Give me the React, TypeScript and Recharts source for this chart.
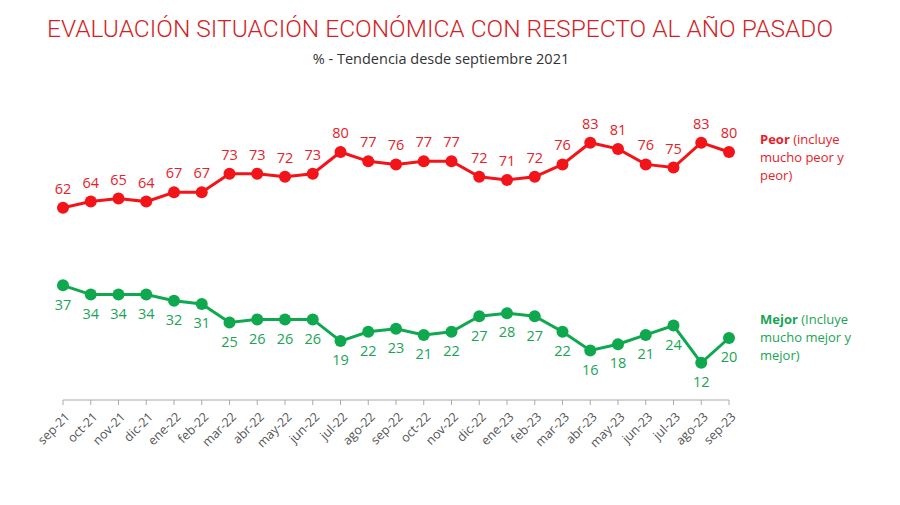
import { LineChart, Line, XAxis, YAxis, LabelList } from "recharts";

const months = [
  "sep-21", "oct-21", "nov-21", "dic-21", "ene-22", "feb-22", "mar-22", "abr-22",
  "may-22", "jun-22", "jul-22", "ago-22", "sep-22", "oct-22", "nov-22", "dic-22",
  "ene-23", "feb-23", "mar-23", "abr-23", "may-23", "jun-23", "jul-23", "ago-23", "sep-23",
];
const peor = [62, 64, 65, 64, 67, 67, 73, 73, 72, 73, 80, 77, 76, 77, 77, 72, 71, 72, 76, 83, 81, 76, 75, 83, 80];
const mejor = [37, 34, 34, 34, 32, 31, 25, 26, 26, 26, 19, 22, 23, 21, 22, 27, 28, 27, 22, 16, 18, 21, 24, 12, 20];

const data = months.map((m, i) => ({ month: m, peor: peor[i], mejor: mejor[i] }));

const RED = "#f21418";
const RED_TEXT = "#e5222a";
const GREEN = "#0fa84e";
const GREEN_TEXT = "#1aa456";
const FONT = "'Open Sans', 'Noto Sans', sans-serif";

function AngleTick({ x, y, payload }: any) {
  return (
    <g transform={`translate(${x + 2},${y + 5})`}>
      <text
        x={0}
        y={0}
        dy={8}
        textAnchor="end"
        transform="rotate(-45)"
        fontSize={12.5}
        fill="#555"
        fontFamily={FONT}
      >
        {payload.value}
      </text>
    </g>
  );
}

export default function App() {
  return (
    <div style={{ position: "absolute", left: 0, top: 0, width: 900, height: 505, background: "#fff" }}>
      <svg width={900} height={70} style={{ position: "absolute", left: 0, top: 0 }}>
        <text
          x={47}
          y={37}
          textLength={786}
          lengthAdjust="spacingAndGlyphs"
          fill="#d21f28"
          fontFamily="Roboto, 'Liberation Sans', sans-serif"
          fontWeight={300}
          fontSize={24}
        >
          EVALUACIÓN SITUACIÓN ECONÓMICA CON RESPECTO AL AÑO PASADO
        </text>
        <text
          x={441}
          y={64}
          textAnchor="middle"
          fill="#333"
          fontFamily={FONT}
          fontSize={14.5}
        >
          % - Tendencia desde septiembre 2021
        </text>
      </svg>
      <LineChart
        width={900}
        height={505}
        data={data}
        margin={{ top: 90, right: 171, bottom: 45, left: 63 }}
      >
        <XAxis
          dataKey="month"
          interval={0}
          height={60}
          stroke="#aaa"
          tickSize={5}
          tick={<AngleTick />}
        />
        <YAxis hide domain={[0, 100]} />
        <Line
          dataKey="peor"
          stroke={RED}
          strokeWidth={3}
          dot={{ r: 6, fill: RED, stroke: RED, strokeWidth: 0 }}
          isAnimationActive={false}
        >
          <LabelList
            dataKey="peor"
            position="top"
            offset={14}
            fill={RED_TEXT}
            fontSize={14.5}
            fontFamily={FONT}
          />
        </Line>
        <Line
          dataKey="mejor"
          stroke={GREEN}
          strokeWidth={3}
          dot={{ r: 6, fill: GREEN, stroke: GREEN, strokeWidth: 0 }}
          isAnimationActive={false}
        >
          <LabelList
            dataKey="mejor"
            position="bottom"
            offset={14}
            fill={GREEN_TEXT}
            fontSize={14.5}
            fontFamily={FONT}
          />
        </Line>
      </LineChart>
      <div
        style={{
          position: "absolute",
          left: 760,
          top: 130,
          color: RED_TEXT,
          fontFamily: FONT,
          fontSize: 13,
          lineHeight: "18px",
        }}
      >
        <b>Peor</b> (incluye
        <br />
        mucho peor y
        <br />
        peor)
      </div>
      <div
        style={{
          position: "absolute",
          left: 760,
          top: 310,
          color: GREEN_TEXT,
          fontFamily: FONT,
          fontSize: 13,
          lineHeight: "18px",
        }}
      >
        <b>Mejor</b> (Incluye
        <br />
        mucho mejor y
        <br />
        mejor)
      </div>
    </div>
  );
}
